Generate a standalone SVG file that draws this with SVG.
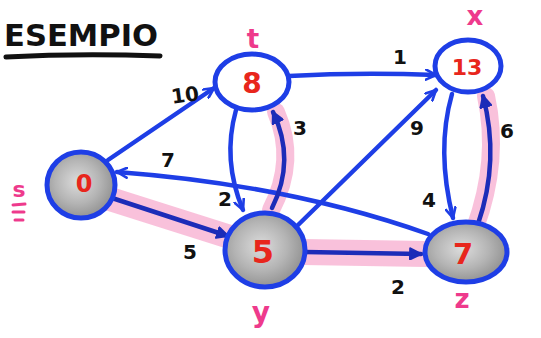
<svg xmlns="http://www.w3.org/2000/svg" width="541" height="338" viewBox="0 0 541 338">
<style>
.edge{fill:none;stroke:#1e3ee6;stroke-width:4.5;stroke-linecap:round}
.hl{fill:none;stroke:#f7a6cc;stroke-opacity:0.7;stroke-linecap:round}
.dark{stroke:#1c2cb8}
.node{stroke:#1e3ee6;stroke-width:5}
.white{fill:#ffffff}
.gray{fill:url(#g)}
.val{font-family:"DejaVu Sans",sans-serif;font-weight:bold;fill:#e8261c;text-anchor:middle}
.nm{font-family:"DejaVu Sans",sans-serif;font-weight:bold;fill:#ee3a8c;text-anchor:middle}
.w{font-family:"DejaVu Sans",sans-serif;font-weight:bold;fill:#111;font-size:20px;text-anchor:middle}
</style>
<defs>
<radialGradient id="g" cx="0.45" cy="0.45" r="0.6">
<stop offset="0" stop-color="#dcdcdc"/>
<stop offset="0.55" stop-color="#b4b4b4"/>
<stop offset="1" stop-color="#8c8c8c"/>
</radialGradient>
<marker id="a" viewBox="0 0 12 12" refX="11" refY="6" markerWidth="12" markerHeight="12" markerUnits="userSpaceOnUse" orient="auto">
<path d="M1,1 L11,6 L1,11" fill="none" stroke="#1e3ee6" stroke-width="2.6" stroke-linejoin="round" stroke-linecap="round"/>
</marker>
<marker id="b" viewBox="0 0 12 12" refX="11" refY="6" markerWidth="13" markerHeight="13" markerUnits="userSpaceOnUse" orient="auto">
<path d="M1,1 L11,6 L1,11 Z" fill="#1c2cb8" stroke="#1c2cb8" stroke-width="2" stroke-linejoin="round"/>
</marker>
</defs>
<g id="title">
<text x="4" y="46" font-family="DejaVu Sans, sans-serif" font-weight="bold" font-size="31" fill="#111" textLength="154" lengthAdjust="spacingAndGlyphs">ESEMPIO</text>
<path d="M6,57 Q80,53 160,56" fill="none" stroke="#111" stroke-width="5" stroke-linecap="round"/>
</g>
<g id="highlights">
<path class="hl" d="M110,199 L230,237" stroke-width="24"/>
<path class="hl" d="M303,252 L426,254" stroke-width="26"/>
<path class="hl" d="M271,210 Q297,160 276,112" stroke-width="18"/>
<path class="hl" d="M475,228 Q500,160 486,96" stroke-width="18"/>
</g>
<g id="connectors">
<path class="edge" d="M108,160 L214,88" marker-end="url(#a)"/>
<path class="edge" d="M289,76 Q360,72 436,75" marker-end="url(#a)"/>
<path class="edge" d="M297,226 L436,90" marker-end="url(#a)"/>
<path class="edge" d="M452,94 Q436,150 453,218" marker-end="url(#a)"/>
<path class="edge" d="M428,234 Q290,185 117,172" marker-end="url(#a)"/>
<path class="edge" d="M236,110 Q222,160 243,210" marker-end="url(#a)"/>
<path class="edge dark" d="M478,224 Q500,160 483,96" marker-end="url(#b)"/>
<path class="edge dark" d="M272,208 Q296,160 273,112" marker-end="url(#b)"/>
<path class="edge dark" d="M112,198 L228,236" marker-end="url(#b)"/>
<path class="edge dark" d="M305,252 L421,254" marker-end="url(#b)"/>
<text class="w" x="185" y="102" transform="rotate(-8 185 95)">10</text>
<text class="w" x="400" y="64">1</text>
<text class="w" x="417" y="135">9</text>
<text class="w" x="429" y="207">4</text>
<text class="w" x="507" y="138">6</text>
<text class="w" x="225" y="206">2</text>
<text class="w" x="300" y="135">3</text>
<text class="w" x="168" y="167">7</text>
<text class="w" x="190" y="259">5</text>
<text class="w" x="398" y="294">2</text>
</g>
<g id="node-t">
<ellipse class="node white" cx="252" cy="82" rx="37" ry="28"/>
<text class="val" x="252" y="93" font-size="28">8</text>
<text class="nm" x="253" y="48" font-size="26">t</text>
</g>
<g id="node-x">
<ellipse class="node white" cx="468" cy="66" rx="33" ry="26"/>
<text class="val" x="467" y="75" font-size="22">13</text>
<text class="nm" x="475" y="25" font-size="26">x</text>
</g>
<g id="node-s">
<ellipse class="node gray" cx="81" cy="185" rx="34" ry="33"/>
<text class="val" x="84" y="192" font-size="24">0</text>
<text class="nm" x="19" y="197" font-size="22">s</text>
<path d="M13,205 L25,204 M13,212 L24,212 M15,220 L23,220" stroke="#ee3a8c" stroke-width="3" stroke-linecap="round"/>
</g>
<g id="node-y">
<ellipse class="node gray" cx="265" cy="250" rx="40" ry="37"/>
<text class="val" x="263" y="263" font-size="32">5</text>
<text class="nm" x="261" y="322" font-size="28">y</text>
</g>
<g id="node-z">
<ellipse class="node gray" cx="466" cy="252" rx="41" ry="30"/>
<text class="val" x="463" y="264" font-size="29">7</text>
<text class="nm" x="462" y="308" font-size="26">z</text>
</g>
</svg>
